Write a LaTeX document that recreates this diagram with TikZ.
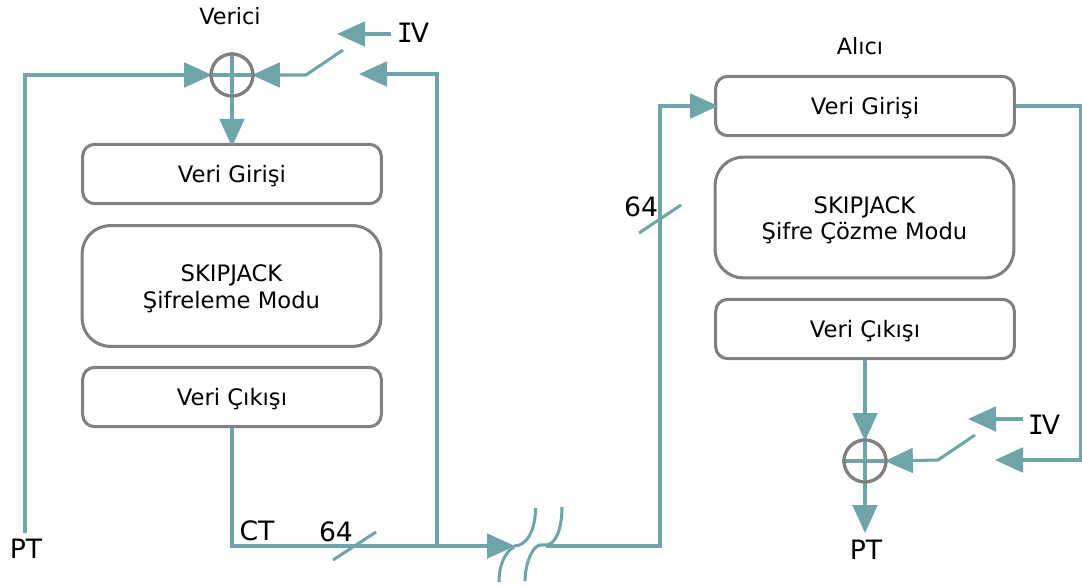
\documentclass[tikz,border=0pt]{standalone}
\usepackage{fontspec}
\setmainfont{DejaVu Sans}
\newfontfamily\serifI{DejaVu Sans Mono}
\usetikzlibrary{arrows.meta}
\definecolor{teal1}{HTML}{6FA5A8}
\definecolor{gray1}{HTML}{808080}
\newcommand{\ivtext}{{\serifI I}\kern-1.5pt V}
\newcommand{\boxline}[1]{\raisebox{-2.4pt}[0.75em][0.25em]{#1}}
\tikzset{
  px/.style={x=0.75pt,y=-0.75pt},
  boxa/.style={draw=gray1,line width=2.3pt,rounded corners=9pt,minimum width=224pt,minimum height=44.5pt,inner sep=0pt,align=center,font=\fontsize{17}{20}\selectfont,fill=white},
  boxb/.style={boxa,rounded corners=21pt,minimum height=90.5pt},
  xorc/.style={circle,draw=gray1,line width=2.3pt,minimum size=31.5pt,inner sep=0pt},
  wire/.style={draw=teal1,line width=2.3pt},
  arr/.style={wire,-{Triangle[length=21pt,width=18.5pt,fill=teal1]}},
  arrn/.style={arr,shorten >=-2pt},
  lblbig/.style={font=\fontsize{20}{24}\selectfont,inner sep=0pt,text=black},
  lblsm/.style={font=\fontsize{16.8}{20}\selectfont,inner sep=0pt,text=black},
}
\begin{document}
\begin{tikzpicture}[px]
\useasboundingbox (0,0) rectangle (1082,586);
% left
\coordinate (xl) at (232,75);
\node[boxa] (lin) at (232,174) {\boxline{Veri Girişi}};
\node[boxb] (lsk) at (231.5,286) {\boxline{SKIPJACK}\\\boxline{Şifreleme Modu}};
\node[boxa] (lout) at (232,397) {\boxline{Veri Çıkışı}};
\node[xorc] (lx) at (xl) {};
\node[lblsm] (lv) at (230,16) {Verici};
\node[lblbig] (liv) at (413,33) {\ivtext};
\node[lblbig] (lpt) at (26,549) {PT};
\node[lblbig] (lct) at (257,531) {CT};
\node[lblbig] (l64) at (336,532) {64};
% right
\node[boxa] (rin) at (865,106) {\boxline{Veri Girişi}};
\node[boxb] (rsk) at (864.5,217.5) {\boxline{SKIPJACK}\\\boxline{Şifre Çözme Modu}};
\node[boxa] (rout) at (865,329) {\boxline{Veri Çıkışı}};
\node[xorc] (rx) at (865,461) {};
\node[lblsm] (ra) at (860,46) {Alıcı};
\node[lblbig] (riv) at (1044,425) {\ivtext};
\node[lblbig] (rpt) at (866,550) {PT};
\node[lblbig] (r64) at (641,207) {64};
% coordinates
\coordinate (ptl) at (25,533);
\coordinate (c1) at (25,75);
\coordinate (fbtop) at (437,74);
\coordinate (fbtip) at (359,74);
\coordinate (jn) at (437,546);
\coordinate (corner) at (232,546);
\coordinate (brk) at (515,546);
\coordinate (ivls) at (391,34);
\coordinate (ivle) at (337,34);
\coordinate (swl1) at (343,50);
\coordinate (swl2) at (306,75);
\coordinate (brk2) at (546,546);
\coordinate (c2) at (660,546);
\coordinate (c3) at (660,106);
\coordinate (c4) at (1081,106);
\coordinate (c5) at (1081,460);
\coordinate (fbrt) at (995,460);
\coordinate (ivrs) at (1023,419);
\coordinate (ivre) at (968,419);
\coordinate (swr1) at (975,435);
\coordinate (swr2) at (938,460);
\coordinate (rptip) at (865,533);
% wires left
\draw[arrn] (ptl) -- (c1) -- (lx.west);
\draw[wire] (lx.north) -- (lx.south);
\draw[wire] (lx.west) -- (lx.east);
\draw[arrn,shorten >=-3pt] (lx.south) -- (lin.north);
\draw[arrn] (swl1) -- (swl2) -- (lx.east);
\draw[arr] (ivls) -- (ivle);
\draw[arr] (jn) -- (fbtop) -- (fbtip);
\draw[arr] (lout.south) -- (corner) -- (brk);
\draw[wire] (333,560) coordinate (t1) -- (376,532) coordinate (t2);
% break marks
\draw[wire] (535.5,508) .. controls (535.5,530) and (527,546) .. (514,546);
\draw[wire] (499,582) .. controls (499,565) and (505,552) .. (514,547);
\draw[wire] (562,507) .. controls (562,530) and (555,545) .. (546,545) -- (540,545) .. controls (532,546) and (525,565) .. (525,581);
% wires right
\draw[arrn,shorten >=-3pt] (brk2) -- (c2) -- (c3) -- (rin.west);
\draw[wire] (639,233) coordinate (t3) -- (681,205) coordinate (t4);
\draw[arr] (rin.east) -- (c4) -- (c5) -- (fbrt);
\draw[arrn] (rout.south) -- (rx.north);
\draw[wire] (rx.north) -- (rx.south);
\draw[wire] (rx.west) -- (rx.east);
\draw[arr] (rx.south) -- (rptip);
\draw[arr] (ivrs) -- (ivre);
\draw[arrn] (swr1) -- (swr2) -- (rx.east);
% circles on top
\node[xorc] at (lx) {};
\node[xorc] at (rx) {};
\end{tikzpicture}
\end{document}
